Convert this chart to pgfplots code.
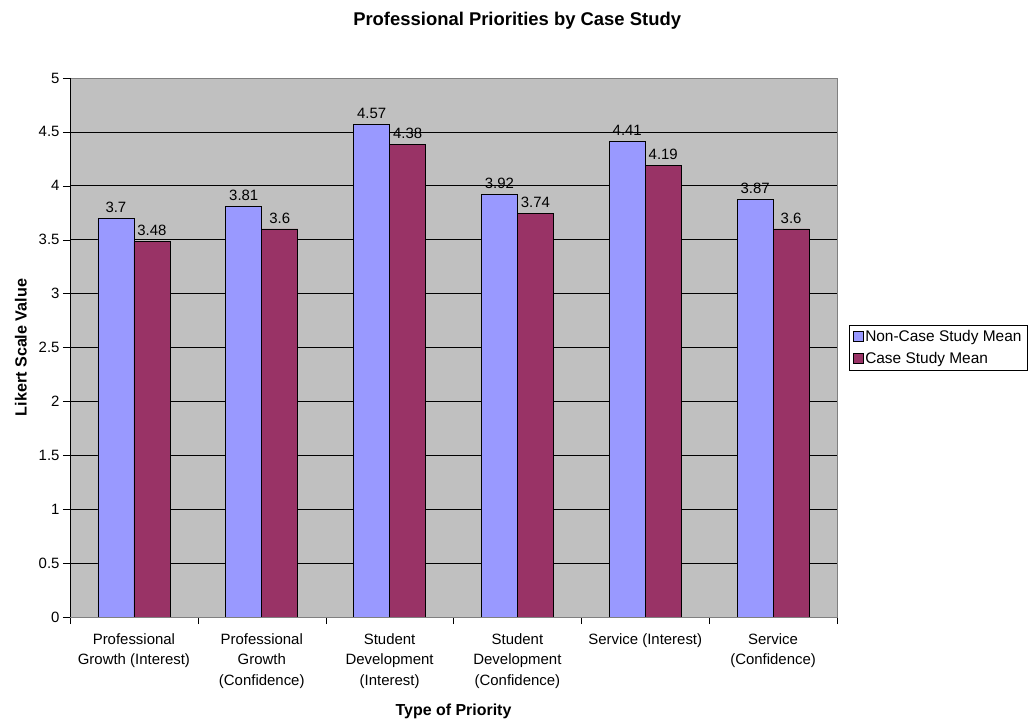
\documentclass[border=0pt]{standalone}
\usepackage{pgfplots}
\pgfplotsset{compat=1.18}
\usepackage{fontspec}
\setmainfont{Liberation Sans}
\definecolor{barblue}{HTML}{9999FF}
\definecolor{barred}{HTML}{993366}
\definecolor{plotbg}{HTML}{C0C0C0}
\begin{document}
\begin{tikzpicture}
\useasboundingbox (0,0) rectangle (1034bp,719bp);
\begin{axis}[
  at={(70bp,102bp)}, anchor=south west,
  scale only axis, width=767bp, height=539bp,
  ybar=0pt, bar width=36bp,
  xmin=-0.5, xmax=5.5, ymin=0, ymax=5,
  axis background/.style={fill=plotbg},
  axis line style={draw=gray},
  xtick={0,1,2,3,4,5},
  xticklabels={Professional\\Growth (Interest),Professional\\Growth\\(Confidence),Student\\Development\\(Interest),Student\\Development\\(Confidence),Service (Interest),Service\\(Confidence)},
  xticklabel style={align=center, font=\fontsize{15}{20.5}\selectfont, yshift=-6bp},
  major x tick style={draw=none},
  minor xtick={-0.5,0.5,1.5,2.5,3.5,4.5,5.5},
  minor x tick style={black},
  minor tick length=7bp,
  ytick={0,0.5,...,5},
  yticklabels={0,0.5,1,1.5,2,2.5,3,3.5,4,4.5,5},
  yticklabel style={font=\fontsize{15}{18}\selectfont},
  y tick style={black},
  major tick length=7bp,
  tick align=outside,
  xtick pos=bottom, ytick pos=left,
  ymajorgrids, grid style={black, line width=0.8pt},
  /pgf/number format/assume math mode=true,
  nodes near coords,
  nodes near coords style={font=\fontsize{15}{18}\selectfont, black, anchor=south, yshift=2bp, /pgf/number format/assume math mode=true},
  every axis title shift=0pt,
  title={\textbf{Professional Priorities by Case Study}},
  title style={font=\fontsize{18.5}{22}\selectfont, at={(0.583,1.106)}, anchor=center},
  xlabel={\textbf{Type of Priority}},
  xlabel style={font=\fontsize{16}{19}\selectfont, at={(0.5,-0.1745)}, anchor=center},
  ylabel={\textbf{Likert Scale Value}},
  ylabel style={font=\fontsize{16.2}{19}\selectfont, at={(-0.064,0.5)}, anchor=center, rotate=0},
  legend style={at={(1.0156,0.5)}, anchor=west, draw=black, font=\fontsize{15.5}{18}\selectfont, row sep=5bp, inner sep=3.5bp},
  legend cell align=left,
  legend image code/.code={\draw[#1, draw=black, line width=0.6pt] (0bp,-5bp) rectangle (10bp,5bp);},
]
\addplot[fill=barblue, draw=black, line width=0.8pt] coordinates {(0,3.7) (1,3.81) (2,4.57) (3,3.92) (4,4.41) (5,3.87)};
\addlegendentry{Non-Case Study Mean}
\addplot[fill=barred, draw=black, line width=0.8pt] coordinates {(0,3.48) (1,3.6) (2,4.38) (3,3.74) (4,4.19) (5,3.6)};
\addlegendentry{Case Study Mean}
\draw[black, line width=1pt] (rel axis cs:0,1) -- (rel axis cs:0,0) -- (rel axis cs:1,0);
\end{axis}
\end{tikzpicture}
\end{document}
